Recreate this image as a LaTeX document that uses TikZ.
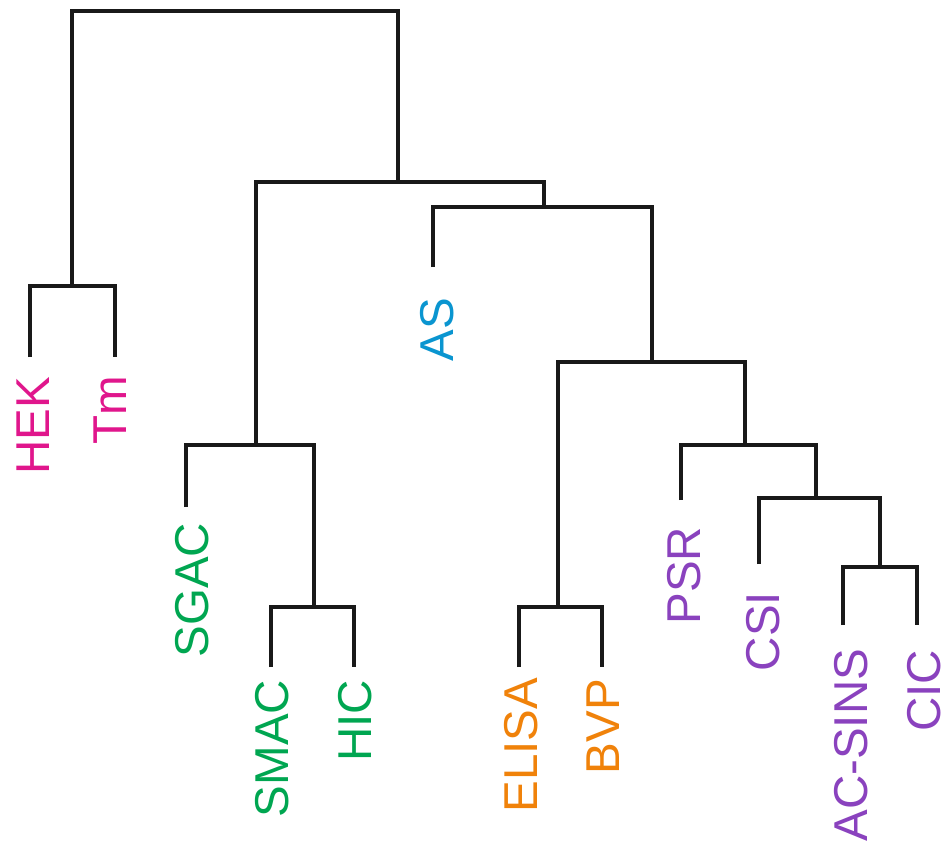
\documentclass[tikz,border=0pt]{standalone}
\usepackage{fontspec}
\setmainfont{Liberation Sans}
\definecolor{cMag}{HTML}{E0168C}
\definecolor{cGrn}{HTML}{00A651}
\definecolor{cBlu}{HTML}{0A95D0}
\definecolor{cOrg}{HTML}{F0820A}
\definecolor{cPur}{HTML}{8A42BE}
\begin{document}
\begin{tikzpicture}[x=1pt,y=-1pt,
  branch/.style={draw=black!90,line width=3.3pt,line join=miter},
  lab/.style={rotate=90,anchor=base east,inner sep=0pt,outer sep=0pt,font=\fontsize{47.5}{47.5}\selectfont}]
\fill[white] (0,0) rectangle (945,843);
\useasboundingbox (0,0) rectangle (945,843);
% leaf ends
\coordinate (HEK) at (30,357);
\coordinate (Tm) at (115,357);
\coordinate (AS) at (433,267);
\coordinate (SGAC) at (186,507);
\coordinate (SMAC) at (271,667);
\coordinate (HIC) at (354,667);
\coordinate (ELISA) at (519,667);
\coordinate (BVP) at (602,667);
\coordinate (PSR) at (681,500);
\coordinate (CSI) at (759,564);
\coordinate (ACSINS) at (843,625);
\coordinate (CIC) at (917,625);
% internal nodes
\coordinate (root) at (235,11);
\coordinate (n1) at (72,286);
\coordinate (n2) at (398,182);
\coordinate (n3) at (544,207);
\coordinate (n4) at (652,362);
\coordinate (n5) at (256,445);
\coordinate (n6) at (314,607);
\coordinate (n7) at (558,607);
\coordinate (n8) at (745,445);
\coordinate (n9) at (816,498);
\coordinate (n10) at (880,567);
% branches
\draw[branch] (n1) |- (root) -| (n2);
\draw[branch] (HEK) |- (n1) -| (Tm);
\draw[branch] (n5) |- (n2) -| (n3);
\draw[branch] (AS) |- (n3) -| (n4);
\draw[branch] (SGAC) |- (n5) -| (n6);
\draw[branch] (SMAC) |- (n6) -| (HIC);
\draw[branch] (n7) |- (n4) -| (n8);
\draw[branch] (ELISA) |- (n7) -| (BVP);
\draw[branch] (PSR) |- (n8) -| (n9);
\draw[branch] (CSI) |- (n9) -| (n10);
\draw[branch] (ACSINS) |- (n10) -| (CIC);
% labels
\node[lab,text=cMag] (lHEK) at (49,377) {HEK};
\node[lab,text=cMag] (lTm) at (126,376) {Tm};
\node[lab,text=cBlu] (lAS) at (453,298) {AS};
\node[lab,text=cGrn] (lSGAC) at (208,523) {SGAC};
\node[lab,text=cGrn] (lSMAC) at (288,680) {SMAC};
\node[lab,text=cGrn] (lHIC) at (371,680) {HIC};
\node[lab,text=cOrg] (lELISA) at (537,678) {ELISA};
\node[lab,text=cOrg] (lBVP) at (619,679) {BVP};
\node[lab,text=cPur] (lPSR) at (700,527) {PSR};
\node[lab,text=cPur] (lCSI) at (779,592) {CSI};
\node[lab,text=cPur] (lACSINS) at (867,649) {AC-SINS};
\node[lab,text=cPur] (lCIC) at (940,650) {CIC};
\end{tikzpicture}
\end{document}
